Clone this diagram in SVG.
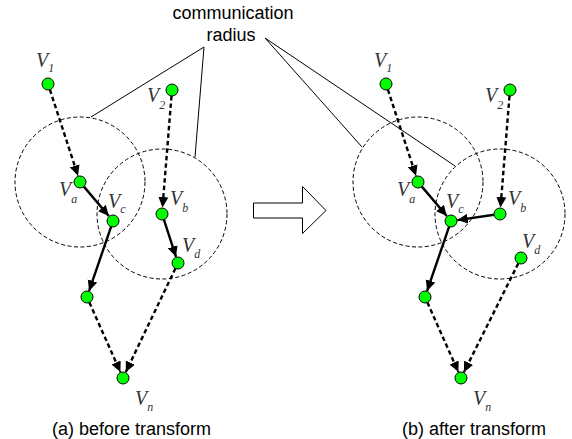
<svg xmlns="http://www.w3.org/2000/svg" width="572" height="439" viewBox="0 0 572 439">
<style>
.node{fill:#00ff00;stroke:#000;stroke-width:1}
.rad{fill:none;stroke:#000;stroke-width:1;stroke-dasharray:4 2.5}
.ptr{fill:none;stroke:#000;stroke-width:1}
.e{fill:none;stroke:#000;stroke-width:2.4;marker-end:url(#ah)}
.d{stroke-dasharray:4.5 3}
.lbl{font-family:"Liberation Serif",serif;font-style:italic;font-size:20px;fill:#333}
.sub{font-size:12px}
.cap{font-family:"Liberation Sans",Arial,sans-serif;font-size:18px;fill:#000}
</style>
<defs>
<marker id="ah" markerUnits="userSpaceOnUse" markerWidth="11" markerHeight="11" refX="10.5" refY="5.5" orient="auto">
<path d="M0,0.5 L10.5,5.5 L0,10.5 z" fill="#000"/>
</marker>
</defs>
<rect width="572" height="439" fill="#fff"/>

<g id="radius-circles">
<circle class="rad" cx="80" cy="182" r="65"/>
<circle class="rad" cx="162" cy="214" r="65"/>
<circle class="rad" cx="418" cy="182" r="65"/>
<circle class="rad" cx="500" cy="214" r="65"/>
</g>

<g id="radius-label">
<text class="cap" x="233" y="19" text-anchor="middle">communication</text>
<text class="cap" x="231" y="41" text-anchor="middle">radius</text>
<path class="ptr" d="M91,117 L204,47 L195,157"/>
<path class="ptr" d="M362,147 L265,38 L455,166"/>
</g>

<g id="connectors">
<line class="e d" x1="49.9" y1="89.7" x2="78" y2="175.8"/>
<line class="e d" x1="171.5" y1="96" x2="162.5" y2="207.5"/>
<line class="e" x1="83.9" y1="186.6" x2="108.8" y2="216"/>
<line class="e" x1="163.9" y1="219.7" x2="176" y2="256.8"/>
<line class="e" x1="111.1" y1="226.7" x2="89.1" y2="290.9"/>
<line class="e d" x1="89.4" y1="302.5" x2="120.4" y2="372.1"/>
<line class="e d" x1="175.4" y1="268.4" x2="125.8" y2="372.1"/>

<line class="e d" x1="387.9" y1="89.7" x2="416" y2="175.8"/>
<line class="e d" x1="509.5" y1="96" x2="500.5" y2="207.5"/>
<line class="e" x1="421.9" y1="186.6" x2="446.8" y2="216"/>
<line class="e" x1="494.1" y1="214.8" x2="457.4" y2="220.1"/>
<line class="e" x1="449.1" y1="226.7" x2="427.1" y2="290.9"/>
<line class="e d" x1="427.4" y1="302.5" x2="458.4" y2="372.1"/>
<line class="e d" x1="518.3" y1="263.4" x2="463.9" y2="372.2"/>
</g>

<g id="a-V1"><circle class="node" cx="48" cy="84" r="6"/><text class="lbl" x="36" y="67">V<tspan class="sub" dy="5">1</tspan></text></g>
<g id="a-V2"><circle class="node" cx="172" cy="90" r="6"/><text class="lbl" x="147" y="102">V<tspan class="sub" dy="7">2</tspan></text></g>
<g id="a-Va"><circle class="node" cx="80" cy="182" r="6"/><text class="lbl" x="59" y="196">V<tspan class="sub" dy="7">a</tspan></text></g>
<g id="a-Vc"><circle class="node" cx="113" cy="221" r="6"/><text class="lbl" x="108" y="208">V<tspan class="sub" dy="5">c</tspan></text></g>
<g id="a-Vb"><circle class="node" cx="162" cy="214" r="6"/><text class="lbl" x="170" y="205">V<tspan class="sub" dy="7">b</tspan></text></g>
<g id="a-Vd"><circle class="node" cx="178" cy="263" r="6"/><text class="lbl" x="182" y="252">V<tspan class="sub" dy="6">d</tspan></text></g>
<g id="a-U"><circle class="node" cx="87" cy="297" r="6"/></g>
<g id="a-Vn"><circle class="node" cx="123" cy="378" r="6"/><text class="lbl" x="135" y="405">V<tspan class="sub" dy="6">n</tspan></text></g>

<g id="b-V1"><circle class="node" cx="386" cy="84" r="6"/><text class="lbl" x="374" y="67">V<tspan class="sub" dy="5">1</tspan></text></g>
<g id="b-V2"><circle class="node" cx="510" cy="90" r="6"/><text class="lbl" x="485" y="102">V<tspan class="sub" dy="7">2</tspan></text></g>
<g id="b-Va"><circle class="node" cx="418" cy="182" r="6"/><text class="lbl" x="397" y="196">V<tspan class="sub" dy="7">a</tspan></text></g>
<g id="b-Vc"><circle class="node" cx="451" cy="221" r="6"/><text class="lbl" x="446" y="208">V<tspan class="sub" dy="5">c</tspan></text></g>
<g id="b-Vb"><circle class="node" cx="500" cy="214" r="6"/><text class="lbl" x="508" y="205">V<tspan class="sub" dy="7">b</tspan></text></g>
<g id="b-Vd"><circle class="node" cx="521" cy="258" r="6"/><text class="lbl" x="522" y="248">V<tspan class="sub" dy="6">d</tspan></text></g>
<g id="b-U"><circle class="node" cx="425" cy="297" r="6"/></g>
<g id="b-Vn"><circle class="node" cx="461" cy="378" r="6"/><text class="lbl" x="473" y="405">V<tspan class="sub" dy="6">n</tspan></text></g>

<g id="transform-arrow">
<path d="M253.5,203 L302.5,203 L302.5,186.5 L326,210.5 L302.5,233.5 L302.5,218 L253.5,218 z" fill="#fff" stroke="#000" stroke-width="1"/>
</g>

<g id="captions">
<text class="cap" x="52" y="435">(a) before transform</text>
<text class="cap" x="402" y="435">(b) after transform</text>
</g>
</svg>
